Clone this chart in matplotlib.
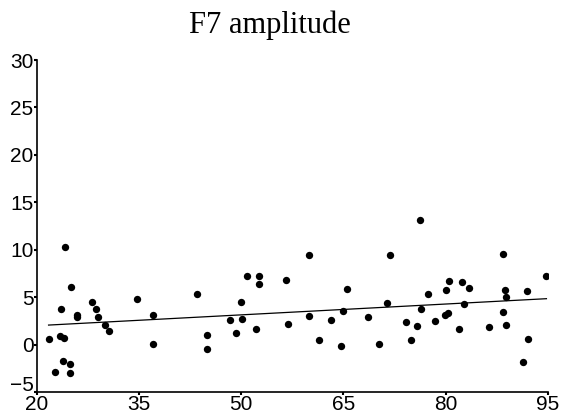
import matplotlib
matplotlib.use("Agg")
import matplotlib.pyplot as plt
import matplotlib.transforms as mtransforms
import numpy as np

title = "F7 amplitude"
age = [21.7, 22.7, 24.1, 23.5, 23.4, 23.9, 23.8, 24.8, 24.9, 25.0, 25.9, 25.9,
       28.1, 28.7, 28.9, 30.0, 30.6, 34.7, 37.1, 37.1, 43.5, 45.0, 45.0, 48.4,
       49.2, 49.9, 50.1, 50.8, 52.6, 52.6, 52.2, 56.6, 56.8, 59.9, 59.9, 61.4,
       63.1, 64.6, 65.0, 65.5, 68.6, 70.2, 71.9, 71.4, 74.2, 74.9, 75.8, 76.4,
       77.4, 78.4, 79.9, 80.4, 80.1, 80.5, 81.9, 82.4, 82.7, 83.5, 86.3, 88.4,
       88.4, 88.7, 88.8, 88.9, 91.4, 91.9, 92.1, 94.8, 76.3]
amp = [0.56, -2.9, 10.3, 3.74, 0.87, 0.7, -1.78, -2.0, -3.04, 6.1, 3.14, 2.9,
       4.54, 3.8, 2.93, 2.1, 1.4, 4.82, 3.07, 0.1, 5.35, 1.0, -0.5, 2.55,
       1.19, 4.5, 2.69, 7.27, 7.2, 6.4, 1.64, 6.78, 2.17, 9.47, 2.97, 0.45,
       2.59, -0.1, 3.5, 5.9, 2.86, 0.1, 9.43, 4.37, 2.38, 0.45, 2.0, 3.77,
       5.38, 2.48, 3.07, 3.28, 5.73, 6.74, 1.6, 6.57, 4.23, 5.94, 1.89, 9.54,
       3.46, 5.8, 5.0, 2.06, -1.89, 5.7, 0.6, 7.2, 13.1]
xticks = [20, 35, 50, 65, 80, 95]
yticks = [-5, 0, 5, 10, 15, 20, 25, 30]

fig = plt.figure(figsize=(5.63, 4.20), dpi=100)
ax = fig.add_axes([0.0657, 0.0667, 0.9073, 0.7903])

ax.scatter(age, amp, s=28, color="black", linewidths=0, zorder=3)

coef = np.polyfit(age, amp, 1)
xl = np.array([min(age), max(age)])
ax.plot(xl, np.polyval(coef, xl), color="black", lw=0.9)

ax.set_xlim(20, 95)
ax.set_ylim(-5, 30)
ax.set_xticks(xticks)
ax.set_yticks(yticks)
for s in ["top", "right"]:
    ax.spines[s].set_visible(False)
for s in ["left", "bottom"]:
    ax.spines[s].set_linewidth(1.2)
ax.tick_params(direction="out", length=2, width=1.5, labelsize=15, pad=0.5)
for lab in ax.get_xticklabels() + ax.get_yticklabels():
    lab.set_family("Liberation Sans")

fig.canvas.draw()
ylabs = ax.get_yticklabels()
shift = mtransforms.ScaledTranslation(0, 6 / 72, fig.dpi_scale_trans)
ylabs[0].set_transform(ylabs[0].get_transform() + shift)

fig.text(0.48, 0.975, title, ha="center", va="top", fontsize=22,
         family="Liberation Serif")

fig.savefig("out.png", dpi=100)
